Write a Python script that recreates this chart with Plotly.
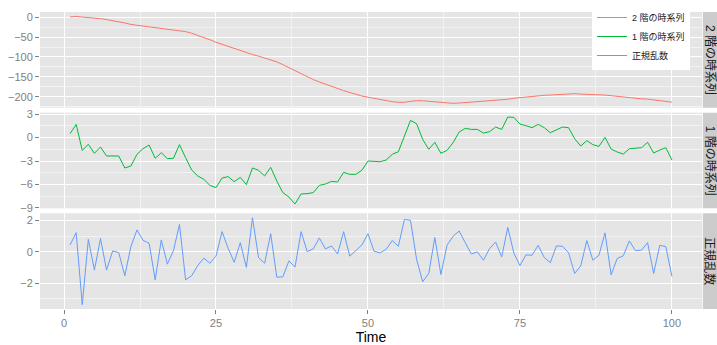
import plotly.graph_objects as go

time = list(range(1, 101))

series_2kai = [
    0.5, 2.2, 0.5, -0.3, -2.4, -3.6, -5.9, -8.3, -10.7, -14.5,
    -18.2, -20.3, -21.8, -22.7, -25.4, -27.3, -30.0, -32.7, -33.6, -36.2,
    -40.3, -45.2, -50.6, -56.7, -63.1, -68.2, -73.2, -78.9, -84.0, -90.0,
    -93.9, -98.1, -103.0, -106.8, -112.3, -119.4, -127.0, -135.5, -142.7, -149.9,
    -156.9, -163.0, -168.9, -174.5, -180.2, -184.7, -189.4, -194.1, -198.3, -201.3,
    -204.3, -207.4, -210.2, -212.4, -214.2, -214.0, -211.8, -210.0, -210.3, -211.8,
    -212.4, -214.4, -216.1, -216.7, -216.0, -214.8, -213.8, -212.8, -212.2, -211.5,
    -210.1, -209.1, -206.5, -203.9, -202.2, -200.7, -199.4, -197.7, -196.5, -195.8,
    -194.9, -193.5, -192.3, -192.4, -193.5, -193.9, -194.8, -196.0, -195.9, -197.4,
    -199.3, -201.4, -202.8, -204.2, -205.5, -206.1, -208.1, -209.7, -211.0, -213.8,
]

series_1kai = [
    0.49, 1.68, -1.64, -0.87, -2.02, -1.21, -2.36, -2.36, -2.36, -3.89,
    -3.64, -2.15, -1.43, -0.96, -2.66, -1.94, -2.70, -2.66, -0.91, -2.57,
    -4.15, -4.91, -5.34, -6.11, -6.40, -5.17, -5.00, -5.64, -5.09, -6.02,
    -3.89, -4.19, -4.91, -3.81, -5.55, -7.04, -7.60, -8.49, -7.21, -7.17,
    -7.04, -6.11, -5.94, -5.60, -5.68, -4.45, -4.70, -4.70, -4.19, -3.00,
    -3.00, -3.09, -2.87, -2.15, -1.81, 0.19, 2.19, 1.77, -0.23, -1.51,
    -0.62, -2.02, -1.64, -0.66, 0.70, 1.17, 1.04, 1.04, 0.57, 0.74,
    1.34, 1.04, 2.62, 2.57, 1.72, 1.51, 1.26, 1.68, 1.26, 0.62,
    0.96, 1.34, 1.26, -0.15, -1.09, -0.40, -0.91, -1.13, 0.02, -1.47,
    -1.85, -2.11, -1.43, -1.38, -1.30, -0.62, -1.98, -1.60, -1.30, -2.87,
]

series_noise = [
    0.44, 1.23, -3.36, 0.80, -1.16, 0.85, -1.16, 0.06, -0.04, -1.52,
    0.34, 1.40, 0.74, 0.55, -1.78, 0.76, -0.78, 0.08, 1.75, -1.78,
    -1.52, -0.87, -0.40, -0.72, -0.27, 1.29, 0.23, -0.66, 0.59, -0.99,
    2.18, -0.36, -0.72, 1.16, -1.61, -1.59, -0.57, -0.97, 1.29, 0.02,
    0.19, 0.89, 0.19, 0.38, -0.13, 1.29, -0.27, 0.08, 0.44, 1.16,
    0.04, -0.06, 0.17, 0.72, 0.36, 2.07, 2.01, -0.47, -1.90, -1.37,
    0.91, -1.44, 0.42, 0.99, 1.33, 0.59, -0.13, 0.00, -0.53, 0.21,
    0.63, -0.32, 1.56, -0.08, -0.87, -0.19, -0.21, 0.42, -0.36, -0.68,
    0.38, 0.36, -0.06, -1.37, -0.89, 0.72, -0.53, -0.21, 1.21, -1.46,
    -0.42, -0.25, 0.70, 0.08, 0.11, 0.59, -1.37, 0.42, 0.34, -1.56,
]

names = ["2 階の時系列", "1 階の時系列", "正規乱数"]
colors = ["#F8766D", "#00BA38", "#619CFF"]
series = [series_2kai, series_1kai, series_noise]
y_major = [50, 3, 2]
y_minor = [25, 1.5, 1]

W, H = 717, 345
ML, MR, MT, MB = 40, 15, 12, 35.5
plot_w = W - ML - MR
plot_h = H - MT - MB
gap = 5.0
ph = (plot_h - 2 * gap) / 3.0

FONT = "Liberation Sans, Arial, Noto Sans CJK JP, sans-serif"
GRID_BG = "#E5E5E5"


def expand(vals):
    lo, hi = min(vals), max(vals)
    d = (hi - lo) * 0.05
    return [lo - d, hi + d]


fig = go.Figure()
for i, (nm, col, s) in enumerate(zip(names, colors, series)):
    ax = "" if i == 0 else str(i + 1)
    fig.add_trace(go.Scatter(
        x=time, y=s, mode="lines", name=nm,
        line=dict(color=col, width=1),
        xaxis="x" + ax, yaxis="y" + ax,
    ))

domains = []
for i in range(3):
    top = 1 - i * (ph + gap) / plot_h
    bot = top - ph / plot_h
    domains.append([max(bot, 0), min(top, 1)])

xr = expand(time)
layout = dict(
    width=W, height=H,
    margin=dict(l=ML, r=MR, t=MT, b=MB, pad=0, autoexpand=False),
    paper_bgcolor="white", plot_bgcolor=GRID_BG,
    font=dict(family=FONT, size=11, color="#7F7F7F"),
    showlegend=True,
    legend=dict(
        xref="container", yref="container",
        x=690 / W, y=1 - 3 / H,
        xanchor="right", yanchor="top",
        bgcolor="white", borderwidth=0,
        font=dict(size=9, color="#1A1A1A", family=FONT),
        tracegroupgap=0, itemwidth=30,
    ),
)

shapes = []
annotations = []
for i in range(3):
    ax = "" if i == 0 else str(i + 1)
    xa = dict(
        domain=[0, 1], range=xr, anchor="y" + ax,
        showgrid=True, gridcolor="white", gridwidth=1.1,
        tick0=0, dtick=25, zeroline=False, showline=False,
        minor=dict(dtick=12.5, tick0=0, showgrid=True, gridcolor="#F2F2F2", gridwidth=0.6),
    )
    if i < 2:
        xa.update(showticklabels=False, ticks="", matches="x3")
    else:
        xa.update(ticks="outside", ticklen=4, tickcolor="#7F7F7F", tickwidth=1,
                  tickfont=dict(size=11, color="#7F7F7F"),
                  title=dict(text="Time", font=dict(size=14, color="black"), standoff=4))
    layout["xaxis" + ax] = xa
    layout["yaxis" + ax] = dict(
        domain=domains[i], range=expand(series[i]), anchor="x" + ax,
        showgrid=True, gridcolor="white", gridwidth=1.1,
        tick0=0, dtick=y_major[i], zeroline=False, showline=False,
        ticks="outside", ticklen=4, tickcolor="#7F7F7F", tickwidth=1,
        tickfont=dict(size=11, color="#7F7F7F"),
        minor=dict(dtick=y_minor[i], tick0=0, showgrid=True, gridcolor="#F2F2F2", gridwidth=0.6),
    )
    shapes.append(dict(
        type="rect", xref="paper", yref="paper",
        x0=1 + 0.8 / plot_w, x1=1 + (MR + 2) / plot_w,
        y0=domains[i][0], y1=domains[i][1],
        fillcolor="#CCCCCC", line=dict(width=0), layer="below",
    ))
    annotations.append(dict(
        text=names[i], xref="paper", yref="paper",
        x=1 + 7.8 / plot_w, y=(domains[i][0] + domains[i][1]) / 2,
        xanchor="center", yanchor="middle", textangle=90, showarrow=False,
        font=dict(size=12, color="#1A1A1A", family=FONT),
    ))

layout["shapes"] = shapes
layout["annotations"] = annotations
fig.update_layout(**layout)
fig.write_html(
    "out.html",
    config={"displayModeBar": False},
    post_script="document.body.style.margin='0';document.body.style.overflow='hidden';",
)
